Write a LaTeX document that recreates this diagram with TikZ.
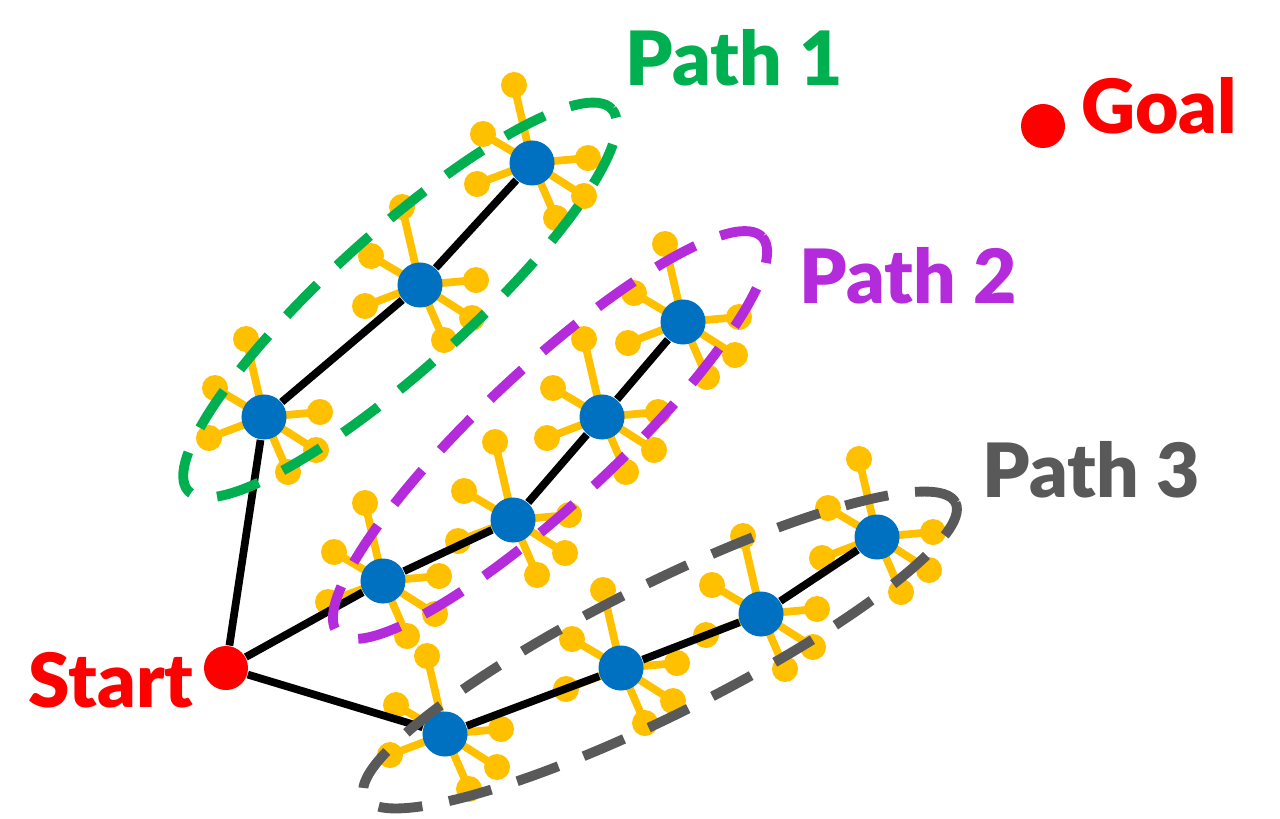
\documentclass[tikz,border=0pt]{standalone}
\usepackage{fontspec}
\setmainfont{Lato}[BoldFont={Lato Black}]
\usetikzlibrary{positioning}
\usetikzlibrary{backgrounds}

\definecolor{routegreen}{HTML}{00B050}
\definecolor{routepurple}{HTML}{B42BDC}
\definecolor{routegray}{HTML}{595959}
\definecolor{sampleyellow}{HTML}{FFC000}
\definecolor{waypointblue}{HTML}{0070C0}
\definecolor{endred}{HTML}{FF0000}

\tikzset{
  waypoint/.style={circle, fill=waypointblue, inner sep=0pt, minimum size=4.5mm},
  endpoint/.style={circle, fill=endred, inner sep=0pt, minimum size=4.4mm},
  branch/.style={line width=2.2pt, sampleyellow},
  route/.style={line width=2.2pt, black},
  hull/.style={line width=2.8pt, dash pattern=on 12.5pt off 7.7pt},
  tag/.style={font=\fontsize{21.3}{25}\selectfont\bfseries, anchor=base west, inner sep=0pt}
}

% yellow samples round one waypoint
\newcommand{\samplestar}[1]{%
  \foreach \dx/\dy in {-18/-78, -49/-29, 56/-5, -55/21, 52/33, 24/55}{
    \draw[branch] (#1.center) -- ++(\dx,\dy) coordinate (tip);
    \fill[sampleyellow] (tip) circle (1.3mm);
  }}

\begin{document}
\begin{tikzpicture}[x=0.01cm, y=-0.01cm]
\useasboundingbox (0,0) rectangle (1280,818);

% Start and goal
\node[endpoint] (start) at (226,668) {};
\node[endpoint] (goal) at (1043,126) {};
\node[tag, endred] (startlabel) at (28,707) {Start};
\node[tag, endred] (goallabel) at (1081,133) {Goal};

% Waypoints
\node[waypoint] (a1) at (264,417) {};
\node[waypoint] (a2) at (420,285) {};
\node[waypoint] (a3) at (532,163) {};

\node[waypoint] (b1) at (383,581) {};
\node[waypoint] (b2) at (513,520) {};
\node[waypoint] (b3) at (602,417) {};
\node[waypoint] (b4) at (683,322) {};

\node[waypoint] (c1) at (445,734) {};
\node[waypoint] (c2) at (621,668) {};
\node[waypoint] (c3) at (761,614) {};
\node[waypoint] (c4) at (877,537) {};

\begin{pgfonlayer}{background}
  \foreach \w in {a1,a2,a3,b1,b2,b3,b4,c1,c2,c3,c4}{
    \samplestar{\w}
  }
  \draw[route] (start) -- (a1) -- (a2) -- (a3);
  \draw[route] (start) -- (b1) -- (b2) -- (b3) -- (b4);
  \draw[route] (start) -- (c1) -- (c2) -- (c3) -- (c4);
\end{pgfonlayer}

% Path hulls
\draw[hull, routegreen, rotate around={42:(400,300)}] (400,300) ellipse (2.85cm and 0.68cm);
\draw[hull, routepurple, rotate around={43:(550,435)}] (550,435) ellipse (2.9cm and 0.67cm);
\draw[hull, routegray, rotate around={26.5:(660,650)}] (660,650) ellipse (3.3cm and 0.65cm);

% Labels
\node[tag, routegreen] (label1) at (625,85) {Path 1};
\node[tag, routepurple] (label2) at (799,303) {Path 2};
\node[tag, routegray] (label3) at (982,497) {Path 3};
\end{tikzpicture}
\end{document}
